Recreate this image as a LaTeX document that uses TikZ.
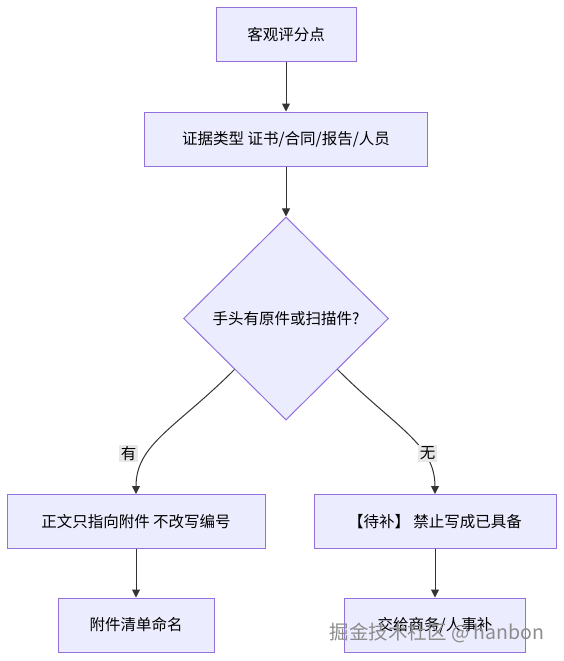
\documentclass[tikz,border=0pt]{standalone}
\usepackage{fontspec}
\setmainfont{Noto Sans CJK SC}
\usetikzlibrary{shapes.geometric,arrows.meta}
\definecolor{boite}{HTML}{ECECFF}
\definecolor{bord}{HTML}{9370DB}
\definecolor{trait}{HTML}{333333}
\tikzset{
    etape/.style={draw=bord,fill=boite,line width=1pt,minimum height=54pt,inner sep=0pt,
      font=\fontsize{15.5}{18}\selectfont},
    choix/.style={diamond,draw=bord,fill=boite,line width=1pt,minimum width=205pt,
      minimum height=203pt,inner sep=0pt,font=\fontsize{15.5}{18}\selectfont},
    fleche/.style={draw=trait,line width=1pt,-{Triangle[length=8pt,width=8pt]}},
    etiquette/.style={fill=black!9,inner sep=1.5pt,font=\fontsize{15.5}{18}\selectfont},
  }
\begin{document}
\begin{tikzpicture}[x=1pt,y=-1pt]
                  %cadre de l'image (y vers le bas)
                  \useasboundingbox (0,0) rectangle (564,661);
                  %etapes
                  \node[etape,minimum width=140pt] (obj) at (286,35) {客观评分点};
                  \node[etape,minimum width=283pt] (type) at (286,139) {证据类型 证书/合同/报告/人员};
                  \node[choix] (q) at (286,318.5) {手头有原件或扫描件?};
                  \node[etape,minimum width=258pt] (oui) at (136,521.5) {正文只指向附件 不改写编号};
                  \node[etape,minimum width=242pt] (non) at (435,521.5) {【待补】 禁止写成已具备};
                  \node[etape,minimum width=156pt] (liste) at (136,625) {附件清单命名};
                  \node[etape,minimum width=181pt] (remise) at (435,625) {交给商务/人事补};
                  %fleches droites
                  \draw[fleche] (obj) -- (type);
                  \draw[fleche] (type) -- (q);
                  \draw[fleche] (oui) -- (liste);
                  \draw[fleche] (non) -- (remise);
                  %branches courbes
                  \draw[fleche] (q.south west) .. controls +(-58,58) and +(0,-50) .. (oui.north);
                  \draw[fleche] (q.south east) .. controls +(58,58) and +(0,-50) .. (non.north);
                  \node[etiquette] (lo) at (128.5,453.5) {有};
                  \node[etiquette] (ln) at (427.5,453.5) {无};
                  %filigrane
                  \node[text=black!45,font=\fontsize{19.5}{22}\selectfont] (marque) at (437,633) {掘金技术社区 @ hanbon};
\end{tikzpicture}
\end{document}
